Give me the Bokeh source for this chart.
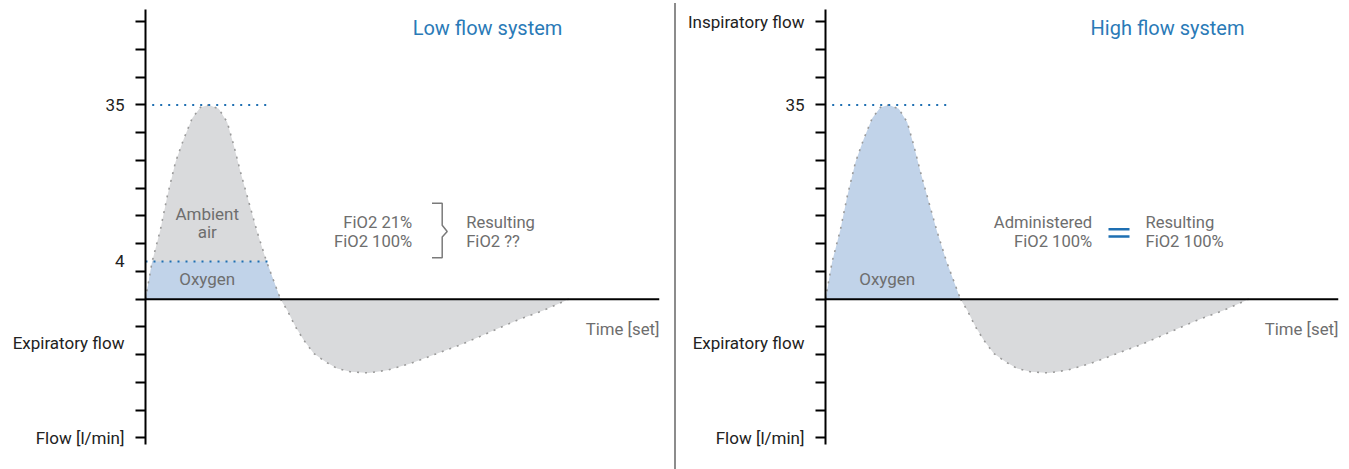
from bokeh.plotting import figure
from bokeh.layouts import row
from bokeh.models import Range1d, FixedTicker, Div, Span
from bokeh.embed import file_html
from bokeh.resources import INLINE
from bokeh.core.properties import value
import numpy as np

# ---- data (time units, flow units; 5 units per tick) ----
insp_t = [0.0, 0.067, 0.15, 0.217, 0.30, 0.383, 0.467, 0.55, 0.633, 0.733, 0.817,
          0.883, 0.95, 1.033, 1.117, 1.21, 1.35]
insp_flow = [0.0, 6.8, 12.6, 18.5, 24.7, 28.9, 32.6, 34.6, 35.0, 34.3, 31.9,
             27.7, 22.9, 17.5, 12.1, 6.8, 0.0]
exp_t = [1.35, 1.417, 1.50, 1.583, 1.683, 1.80, 1.917, 2.05, 2.233, 2.417, 2.65,
         2.917, 3.183, 3.45, 3.717, 3.983, 4.233]
exp_flow = [0.0, -2.0, -5.0, -7.4, -9.8, -11.3, -12.5, -13.1, -13.3, -12.8, -11.6,
            -9.8, -8.0, -5.9, -3.8, -2.0, 0.0]

peak_level = 35.0
o2_level = 6.8
ref_line_t = [0.0, 1.267]

minor_ticks = [-25, -20, -15, -10, -5, 0, 5, 10, 15, 20, 25, 30, 35, 40, 45, 50]
left_labels = {35: "35", 6.8: "4", -7.9: "Expiratory flow", -25: "Flow [l/min]"}
right_labels = {50: "Inspiratory flow", 35: "35", -7.9: "Expiratory flow", -25: "Flow [l/min]"}

titles = ["Low flow system", "High flow system"]

FONT = "Roboto"
GRAY_FILL = "#d9dadc"
BLUE_FILL = "#c1d3e9"
OUTLINE = "#9a9a9a"
DOT_BLUE = "#1e6fb2"
TITLE_BLUE = "#2a7ab7"
TEXT_GRAY = "#6e6e6e"
AXIS_TEXT = "#222222"

Y0, Y1 = -26.2, 52.2


def make_panel(width, x_end, border_left, border_right, labels, title, high):
    p = figure(width=width, height=461, x_range=Range1d(0, x_end), y_range=Range1d(Y0, Y1),
               min_border_left=border_left, min_border_right=border_right,
               min_border_top=9, min_border_bottom=17, x_axis_location=None,
               toolbar_location=None, output_backend="svg", title=None)
    p.grid.visible = False
    p.outline_line_color = None
    p.background_fill_color = "white"
    p.border_fill_color = "white"

    ax = p.yaxis[0]
    ax.ticker = FixedTicker(ticks=list(labels.keys()), minor_ticks=minor_ticks)
    ax.major_label_overrides = labels
    ax.major_tick_line_color = None
    ax.major_tick_out = 0
    ax.major_tick_in = 0
    ax.minor_tick_line_color = "black"
    ax.minor_tick_line_width = 2
    ax.minor_tick_out = 10
    ax.minor_tick_in = 0
    ax.axis_line_color = "black"
    ax.axis_line_width = 2
    ax.major_label_standoff = 11
    ax.major_label_text_font = FONT
    ax.major_label_text_font_size = "17px"
    ax.major_label_text_color = AXIS_TEXT

    flow = np.array(insp_flow)
    if high:
        p.varea(x=insp_t, y1=0, y2=insp_flow, fill_color=BLUE_FILL)
    else:
        p.varea(x=insp_t, y1=0, y2=insp_flow, fill_color=GRAY_FILL)
        p.varea(x=insp_t, y1=0, y2=np.minimum(flow, o2_level), fill_color=BLUE_FILL)
    p.varea(x=exp_t, y1=exp_flow, y2=0, fill_color=GRAY_FILL)

    p.line(insp_t, insp_flow, line_color=OUTLINE, line_width=1.6, line_dash="2 6")
    p.line(exp_t, exp_flow, line_color=OUTLINE, line_width=1.6, line_dash="2 6")

    p.line([0.067, ref_line_t[1]], [peak_level, peak_level], line_color=DOT_BLUE,
           line_width=2, line_dash="2 6")
    if not high:
        p.line(ref_line_t, [o2_level, o2_level], line_color=DOT_BLUE,
               line_width=2, line_dash="2 6")

    p.add_layout(Span(location=0, dimension="width", line_color="black", line_width=2))

    tf = value(FONT)
    p.text([3.42], [48.8], text=[title], text_font=tf, text_font_size=value("20px"),
           text_color=TITLE_BLUE, text_align="center", text_baseline="middle")
    p.text([x_end], [-5.3], text=["Time [set]"], text_font=tf, text_font_size=value("16.8px"),
           text_color=TEXT_GRAY, text_align="right", text_baseline="middle")
    p.text([0.617], [3.57], text=["Oxygen"], text_font=tf, text_font_size=value("17px"),
           text_color=TEXT_GRAY, text_align="center", text_baseline="middle")

    if not high:
        p.text([0.617, 0.617], [15.4, 12.1], text=["Ambient", "air"], text_font=tf,
               text_font_size=value("17px"), text_color=TEXT_GRAY,
               text_align="center", text_baseline="middle")
        p.text([2.667, 2.667], [13.9, 10.4], text=["FiO2 21%", "FiO2 100%"], text_font=tf,
               text_font_size=value("16.6px"), text_color=TEXT_GRAY,
               text_align="right", text_baseline="middle")
        p.text([3.207, 3.207], [13.9, 10.4], text=["Resulting", "FiO2 ??"], text_font=tf,
               text_font_size=value("16.6px"), text_color=TEXT_GRAY,
               text_align="left", text_baseline="middle")
        bx0, bx1, bx2 = 2.865, 2.967, 3.017
        p.line([bx0, bx1, bx1, bx2, bx1, bx1, bx0],
               [17.26, 17.26, 13.3, 12.2, 11.2, 7.48, 7.48],
               line_color="#7a7a7a", line_width=1.5)
    else:
        p.text([2.667, 2.667], [13.9, 10.4], text=["Administered", "FiO2 100%"], text_font=tf,
               text_font_size=value("16.6px"), text_color=TEXT_GRAY,
               text_align="right", text_baseline="middle")
        p.text([3.20, 3.20], [13.9, 10.4], text=["Resulting", "FiO2 100%"], text_font=tf,
               text_font_size=value("16.6px"), text_color=TEXT_GRAY,
               text_align="left", text_baseline="middle")
        p.segment(x0=[2.83, 2.83], y0=[12.58, 11.3], x1=[3.04, 3.04], y1=[12.58, 11.3],
                  line_color=DOT_BLUE, line_width=2.5)
    return p


p1 = make_panel(674, 5.14, 145, 15, left_labels, titles[0], False)
p2 = make_panel(665, 5.13, 149, 3, right_labels, titles[1], True)
sep = Div(width=2, height=466, margin=(3, 0, 0, 0),
          styles={"background-color": "#8c8c8c"})

layout = row(p1, sep, p2)
open("out.html", "w").write(file_html(layout, INLINE))
